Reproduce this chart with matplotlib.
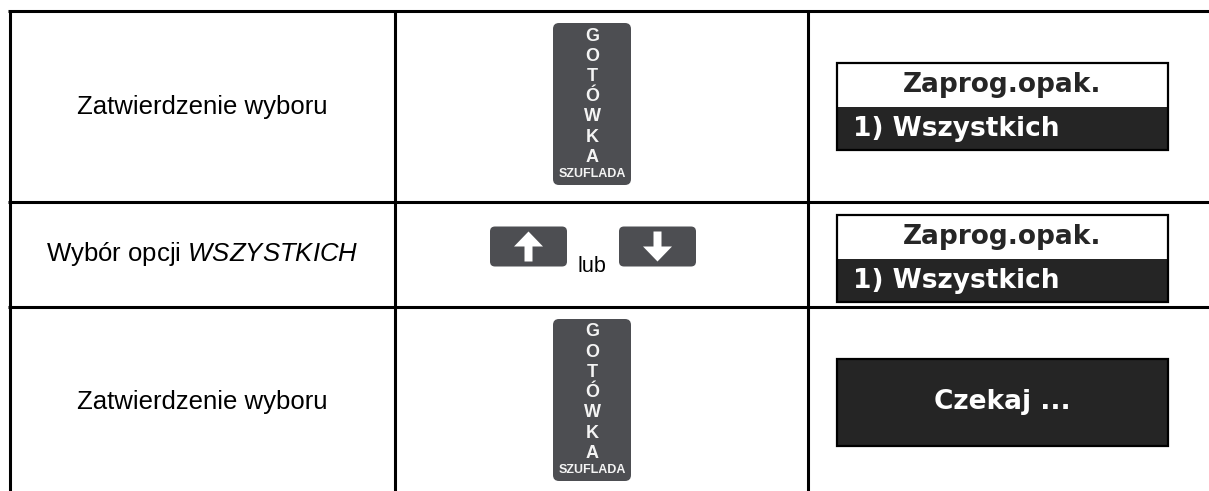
import matplotlib.pyplot as plt
from matplotlib.patches import FancyBboxPatch, Rectangle, FancyArrow

# table content
actions = ['Zatwierdzenie wyboru',
           r'Wybór opcji $\mathit{WSZYSTKICH}$',
           'Zatwierdzenie wyboru']
keys = ['gotowka', 'arrows', 'gotowka']
key_letters = ['G', 'O', 'T', 'Ó', 'W', 'K', 'A']
key_caption = 'SZUFLADA'
arrow_sep = 'lub'
displays = [['Zaprog.opak.', '1) Wszystkich'],
            ['Zaprog.opak.', '1) Wszystkich'],
            ['Czekaj ...']]

# layout in pixels
W, H = 1209, 491
row_edges = [11, 202, 307, 497]
col_x = [9.5, 394.5, 808]
key_cx = 592
disp_x0, disp_x1 = 837, 1168

plt.rcParams['mathtext.fontset'] = 'custom'
plt.rcParams['mathtext.rm'] = 'Liberation Sans'
plt.rcParams['mathtext.it'] = 'Liberation Sans:italic'

fig = plt.figure(figsize=(W / 100, H / 100), dpi=100)
ax = fig.add_axes([0, 0, 1, 1])
ax.set_xlim(0, W)
ax.set_ylim(H, 0)
ax.axis('off')

KEY_COL = '#4d4e52'
DARK = '#252525'
lw = 2.2

# grid lines
for y in row_edges[:3]:
    ax.plot([col_x[0] - 1.5, W], [y, y], color='black', lw=lw, solid_capstyle='butt')
for x in col_x:
    ax.plot([x, x], [row_edges[0], H], color='black', lw=lw, solid_capstyle='butt')


def gotowka(top):
    ax.add_patch(FancyBboxPatch((key_cx - 39, top), 78, 162,
                                boxstyle='round,pad=0,rounding_size=6',
                                fc=KEY_COL, ec='none'))
    for i, ch in enumerate(key_letters):
        ax.text(key_cx, top + 13 + i * 20.2, ch, ha='center', va='center',
                color='#f4f4f4', fontsize=13, fontweight='bold',
                family='Liberation Sans')
    ax.text(key_cx, top + 151, key_caption, ha='center', va='center',
            color='#f4f4f4', fontsize=9, fontweight='bold',
            family='Liberation Sans')


def arrows(cy):
    for x0, d in [(490, -1), (619, 1)]:
        ax.add_patch(FancyBboxPatch((x0, cy - 20), 77, 40,
                                    boxstyle='round,pad=0,rounding_size=5',
                                    fc=KEY_COL, ec='none'))
        cx = x0 + 38.5
        ax.add_patch(FancyArrow(cx, cy - d * 15, 0, d * 30, width=8,
                                head_width=29, head_length=15,
                                length_includes_head=True,
                                fc='white', ec='none'))
    ax.text(591.5, cy + 26, arrow_sep, ha='center', va='baseline',
            fontsize=15.5, family='Liberation Sans', color='black')


def display(lines, cy):
    top = cy - 43.5
    if len(lines) == 2:
        ax.add_patch(Rectangle((disp_x0, top), disp_x1 - disp_x0, 43.5,
                               fc='white', ec='none'))
        ax.add_patch(Rectangle((disp_x0, top + 43.5), disp_x1 - disp_x0, 43.5,
                               fc=DARK, ec='none'))
        ax.text((disp_x0 + disp_x1) / 2, top + 22, lines[0], ha='center',
                va='center', fontsize=19, fontweight='bold',
                family='DejaVu Sans', color='#262626')
        ax.text(disp_x0 + 16, top + 65.5, lines[1], ha='left',
                va='center', fontsize=19, fontweight='bold',
                family='DejaVu Sans', color='white')
    else:
        ax.add_patch(Rectangle((disp_x0, top), disp_x1 - disp_x0, 87,
                               fc=DARK, ec='none'))
        ax.text((disp_x0 + disp_x1) / 2, cy, lines[0], ha='center',
                va='center', fontsize=19, fontweight='bold',
                family='DejaVu Sans', color='white')
    ax.add_patch(Rectangle((disp_x0, top), disp_x1 - disp_x0, 87,
                           fc='none', ec='black', lw=1.6))


for i in range(3):
    r0, r1 = row_edges[i], row_edges[i + 1]
    cy = (r0 + r1) / 2
    ax.text(col_x[0] + 193, cy, actions[i], ha='center', va='center',
            fontsize=18.5, family='Liberation Sans', color='black')
    if keys[i] == 'gotowka':
        gotowka(r0 + 12)
    else:
        arrows(cy - 8)
    display(displays[i], cy + (4 if i == 1 else 0))

fig.savefig('out.png', dpi=100)
